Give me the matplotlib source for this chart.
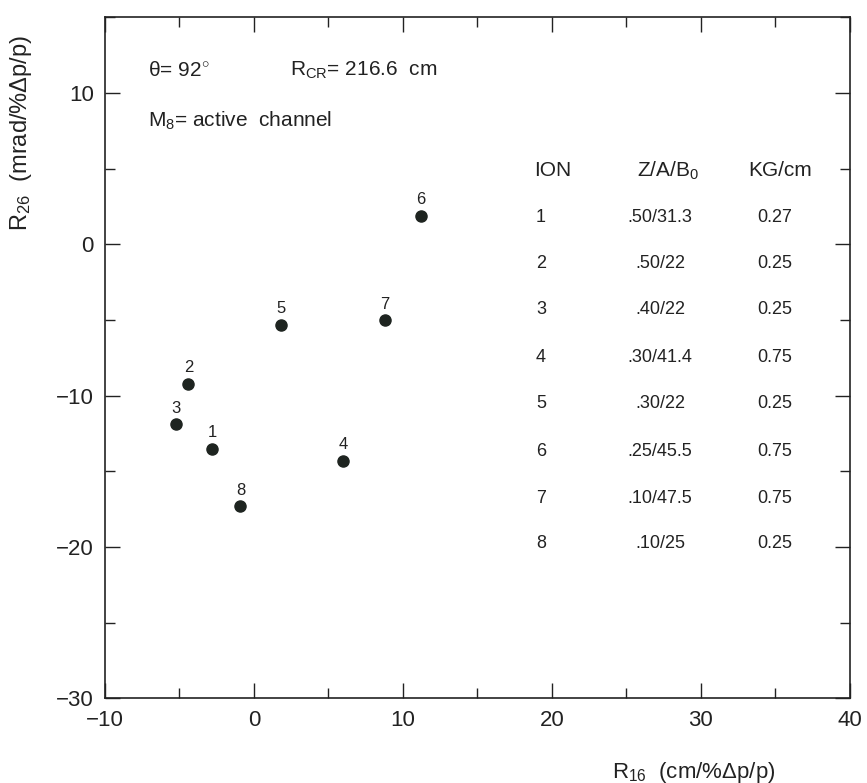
import matplotlib
matplotlib.use("Agg")
import matplotlib.pyplot as plt
from matplotlib.ticker import MultipleLocator

plt.rcParams['font.family'] = ['Liberation Sans', 'DejaVu Sans']
plt.rcParams['mathtext.fontset'] = 'custom'
plt.rcParams['mathtext.rm'] = 'Liberation Sans'
plt.rcParams['mathtext.it'] = 'Liberation Sans'

# Ion labels and their measured coefficients
ions = ["1", "2", "3", "4", "5", "6", "7", "8"]
r16 = [-2.8, -4.4, -5.2, 6.0, 1.8, 11.2, 8.8, -0.9]
r26 = [-13.5, -9.2, -11.9, -14.3, -5.3, 1.9, -5.0, -17.3]

# Table of ion properties
za_b0 = [".50/31.3", ".50/22", ".40/22", ".30/41.4", ".30/22", ".25/45.5", ".10/47.5", ".10/25"]
kg_cm = ["0.27", "0.25", "0.25", "0.75", "0.25", "0.75", "0.75", "0.25"]

# Axis ticks
x_ticks = [-10, 0, 10, 20, 30, 40]
x_ticklabels = ["\u221210", "0", "10", "20", "30", "40"]
y_ticks = [-30, -20, -10, 0, 10]
y_ticklabels = ["\u221230", "\u221220", "\u221210", "0", "10"]

fig = plt.figure(figsize=(8.67, 7.83), dpi=100)
ax = fig.add_axes([0.121, 0.108, 0.859, 0.870])

ax.plot(r16, r26, 'o', color='#1e2420', markersize=8, linestyle='none')
for lab, x, y in zip(ions, r16, r26):
    ax.annotate(lab, (x, y), xytext=(0, 6), textcoords='offset points',
                ha='center', va='bottom', fontsize=12, color='#222222')

ax.set_xlim(-10, 40)
ax.set_ylim(-30, 15)
ax.set_xticks(x_ticks)
ax.set_xticklabels(x_ticklabels)
ax.set_yticks(y_ticks)
ax.set_yticklabels(y_ticklabels)
ax.xaxis.set_minor_locator(MultipleLocator(5))
ax.yaxis.set_minor_locator(MultipleLocator(5))
ax.tick_params(which='both', direction='in', top=True, right=True,
               labelsize=16, colors='#222222', width=1.0)
ax.tick_params(which='major', length=11, pad=8)
ax.tick_params(which='minor', length=7)
for s in ax.spines.values():
    s.set_linewidth(1.2)
    s.set_color('#222222')

ax.set_xlabel(r"R$_{16}$  (cm/%$\Delta$p/p)", fontsize=16, color='#222222')
ax.xaxis.set_label_coords(0.79, -0.09)
ax.set_ylabel(r"R$_{26}$  (mrad/%$\Delta$p/p)", fontsize=17, color='#222222')
ax.yaxis.set_label_coords(-0.095, 0.83)

# Run conditions
ax.text(148 / 867, 1 - 70 / 783, r"$\theta$= 92$^{\circ}$", transform=fig.transFigure,
        fontsize=15, va='center', ha='left', color='#222222')
ax.text(290 / 867, 1 - 70 / 783, r"R$_{CR}$= 216.6  cm", transform=fig.transFigure,
        fontsize=15, va='center', ha='left', color='#222222')
ax.text(148 / 867, 1 - 121 / 783, r"M$_{8}$= active  channel", transform=fig.transFigure,
        fontsize=15, va='center', ha='left', color='#222222')

# Ion table
col_x = [553 / 867, 668 / 867, 780 / 867]
ax.text(col_x[0], 1 - 171 / 783, "ION", transform=fig.transFigure, fontsize=15,
        ha='center', va='center', color='#222222')
ax.text(col_x[1], 1 - 171 / 783, r"Z/A/B$_0$", transform=fig.transFigure, fontsize=15,
        ha='center', va='center', color='#222222')
ax.text(col_x[2], 1 - 171 / 783, "KG/cm", transform=fig.transFigure, fontsize=15,
        ha='center', va='center', color='#222222')
row_y = [217, 263, 309, 357, 404, 451, 498, 543]
for ion, za, kg, ry in zip(ions, za_b0, kg_cm, row_y):
    yf = 1 - ry / 783
    ax.text(col_x[0] - 12 / 867, yf, ion, transform=fig.transFigure, fontsize=13,
            ha='center', va='center', color='#222222')
    ax.text(col_x[1] - 8 / 867, yf, za, transform=fig.transFigure, fontsize=13,
            ha='center', va='center', color='#222222')
    ax.text(col_x[2] - 5 / 867, yf, kg, transform=fig.transFigure, fontsize=13,
            ha='center', va='center', color='#222222')

fig.savefig("out.png", dpi=100)
